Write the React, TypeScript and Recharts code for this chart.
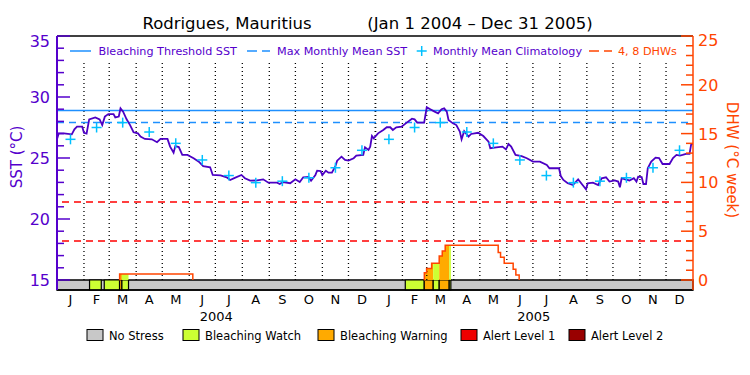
import { ComposedChart, Line, Area, Scatter, XAxis, YAxis, ReferenceLine, ReferenceArea } from 'recharts'

const FONT = '"DejaVu Sans", "Liberation Sans", sans-serif'
const PURPLE = '#5500CC'
const SST_LINE = '#4C00C4'
const BLUE = '#1E90FF'
const CYAN = '#00C0FF'
const RED = '#FF0000'
const ORANGE_RED = '#FF4500'

const ALERT_COLORS: Record<string, string> = {
  none: '#C8C8C8',
  watch: '#CCFF33',
  warning: '#FFAA00',
  alert1: '#EE0000',
  alert2: '#990000',
}

// x = days since Jan 1 2004
const monthStarts = [0, 31, 60, 91, 121, 152, 182, 213, 244, 274, 305, 335, 366, 397, 425, 456, 486, 517, 547, 578, 609, 639, 670, 700, 731]
const monthLetters = ['J', 'F', 'M', 'A', 'M', 'J', 'J', 'A', 'S', 'O', 'N', 'D']
const yearLabels = [{ day: 183, label: '2004' }, { day: 548, label: '2005' }]

const sstTicks = [15, 16, 17, 18, 19, 20, 21, 22, 23, 24, 25, 26, 27, 28, 29, 30, 31, 32, 33, 34, 35]
const dhwTicks = [0, 1, 2, 3, 4, 5, 6, 7, 8, 9, 10, 11, 12, 13, 14, 15, 16, 17, 18, 19, 20, 21, 22, 23, 24, 25]

const MMM = 27.9
const THRESHOLD = 28.9
const dhwLevels = [4, 8]

// twice-weekly SST, [day, °C]
const sstSeries: [number, number][] = [
  [0, 26.53], [2, 27.02], [8, 27.02], [17, 26.94], [20, 27.35], [23, 27.57], [29, 27.57], [31, 27.07], [34, 27.0],
  [37, 28.17], [44, 28.33], [49, 28.17], [52, 27.7], [55, 28.39], [59, 28.6], [65, 28.6], [67, 28.33], [71, 28.4],
  [73, 29.07], [76, 28.8], [80, 28.17], [84, 27.7], [88, 27.11], [93, 27.02], [96, 26.75], [101, 26.56], [109, 26.53],
  [115, 26.29], [119, 26.56], [127, 26.56], [130, 25.93], [134, 25.43], [136, 25.98], [140, 25.9], [144, 25.25],
  [150, 25.25], [157, 24.98], [163, 24.7], [168, 24.34], [176, 24.24], [179, 23.61], [188, 23.57], [195, 23.42],
  [199, 23.2], [205, 23.39], [212, 23.61], [216, 23.34], [222, 23.14], [230, 23.16], [237, 23.25], [243, 22.98],
  [253, 22.98], [256, 22.87], [260, 23.03], [268, 22.93], [274, 23.25], [279, 23.03], [283, 23.42], [289, 23.44],
  [292, 23.14], [297, 23.61], [299, 23.96], [303, 23.93], [305, 23.61], [309, 23.96], [312, 23.8], [316, 23.8],
  [320, 24.34], [322, 24.78], [327, 25.11], [331, 24.84], [335, 24.78], [341, 24.98], [344, 25.2], [352, 25.25],
  [354, 25.87], [358, 25.66], [360, 25.93], [362, 26.8], [364, 26.61], [369, 27.02], [375, 27.3], [379, 27.52],
  [383, 27.52], [386, 27.3], [390, 27.52], [396, 27.57], [402, 27.9], [408, 28.22], [411, 28.17], [414, 27.9],
  [422, 27.9], [425, 29.16], [429, 29.0], [434, 28.8], [438, 28.66], [442, 29.0], [445, 29.07], [448, 28.8],
  [450, 28.11], [455, 27.84], [459, 27.7], [463, 27.16], [465, 26.53], [468, 27.2], [473, 26.75], [476, 26.97],
  [484, 27.07], [490, 26.8], [496, 26.34], [498, 25.8], [505, 25.87], [512, 25.93], [516, 25.7], [519, 26.15],
  [522, 25.93], [527, 25.25], [534, 25.16], [540, 24.98], [547, 24.7], [555, 24.7], [563, 24.43], [566, 24.16],
  [577, 24.16], [579, 23.52], [582, 23.2], [587, 22.93], [593, 22.79], [599, 23.25], [605, 22.7], [608, 22.43],
  [610, 22.93], [616, 22.98], [622, 22.79], [626, 23.34], [631, 23.42], [635, 23.07], [641, 23.16], [645, 23.07],
  [647, 22.6], [649, 23.34], [653, 23.25], [658, 23.16], [663, 23.34], [666, 23.07], [668, 23.47], [672, 23.44],
  [674, 22.87], [677, 22.87], [679, 24.16], [683, 24.7], [688, 25.03], [692, 25.0], [696, 24.51], [704, 24.51],
  [708, 25.0], [712, 25.25], [716, 25.2], [719, 25.25], [723, 25.33], [727, 25.33], [729, 26.15], [731, 26.15],
]

// monthly mean climatology, Jan..Dec
const climMonthly = [26.53, 27.5, 27.9, 27.13, 26.2, 24.84, 23.56, 22.98, 23.1, 23.38, 24.2, 25.63]

// degree heating weeks, [day, °C-week]
const dhw2004: [number, number][] = [[71.9, 0], [72, 0.61], [156.1, 0]]
const dhw2005: [number, number][] = [
  [422.1, 0], [422.2, 0.75], [424.8, 1.19], [430.6, 1.71], [439.3, 2.46], [442.8, 2.97], [446.2, 3.55],
  [507.1, 2.83], [509.8, 2.32], [514, 1.71], [524.3, 1.09], [527.4, 0.51], [531.2, 0],
]

// bleaching alert periods
const alertSegments = [
  { start: 37.4, end: 50.9, level: 'watch' },
  { start: 54.3, end: 71.9, level: 'watch' },
  { start: 71.9, end: 74.6, level: 'warning' },
  { start: 74.6, end: 82.2, level: 'watch' },
  { start: 400.3, end: 422.1, level: 'watch' },
  { start: 422.1, end: 432.4, level: 'warning' },
  { start: 432.4, end: 439.3, level: 'watch' },
  { start: 439.3, end: 450.8, level: 'warning' },
  { start: 450.8, end: 452.7, level: 'watch' },
]

const legendItems = [
  { key: 'none', label: 'No Stress', x: 87 },
  { key: 'watch', label: 'Bleaching Watch', x: 183 },
  { key: 'warning', label: 'Bleaching Warning', x: 318 },
  { key: 'alert1', label: 'Alert Level 1', x: 461 },
  { key: 'alert2', label: 'Alert Level 2', x: 569 },
]

const SST_MIN = 14.18
const DHW_MIN = -1.025
const GRID_TOP = 33.0 // dotted month lines stop below the legend row

const monthMids = monthStarts.slice(0, -1).map((s, i) => s + (monthStarts[i + 1] - s) / 2)
const xTicks = [...monthMids, ...yearLabels.map((y) => y.day)]
const sstData = sstSeries.map(([day, v]) => ({ day, v }))
const climData = monthMids.map((day, i) => ({ day, v: climMonthly[i % 12] }))
const toRows = (pts: [number, number][]) => pts.map(([day, v]) => ({ day, v }))

function stepAt(pts: [number, number][], t: number) {
  let v = 0
  for (const [d, y] of pts) if (d <= t) v = y
  return v
}

function fillRows(a: number, b: number) {
  const pts = a < 366 ? dhw2004 : dhw2005
  const inner = pts.filter(([d]) => d > a && d < b)
  return toRows([[a, stepAt(pts, a)], ...inner, [b, stepAt(pts, b)]])
}

function SstTick(props: any) {
  const { x, y, payload } = props
  const major = payload.value % 5 === 0
  return (
    <g>
      <line x1={x} x2={x + (major ? 13 : 7)} y1={y} y2={y} stroke={PURPLE} strokeWidth={1.5} />
      {major && (
        <text x={x - 7} y={Math.max(y, 41)} dy={6} textAnchor="end" fill={PURPLE} fontSize={16} fontFamily={FONT}>
          {payload.value}
        </text>
      )}
    </g>
  )
}

function DhwTick(props: any) {
  const { x, y, payload } = props
  const major = payload.value % 5 === 0
  return (
    <g>
      <line x1={x} x2={x - (major ? 12 : 7)} y1={y} y2={y} stroke={ORANGE_RED} strokeWidth={1.5} />
      {major && (
        <text x={x + 5} y={Math.max(y, 40)} dy={6} textAnchor="start" fill={ORANGE_RED} fontSize={16} fontFamily={FONT}>
          {payload.value}
        </text>
      )}
    </g>
  )
}

function MonthTick(props: any) {
  const { x, y, payload } = props
  const yr = yearLabels.find((t) => t.day === payload.value)
  if (yr) {
    return (
      <text x={x} y={y + 31} textAnchor="middle" fill="#000" fontSize={13} fontFamily={FONT}>
        {yr.label}
      </text>
    )
  }
  const i = monthMids.indexOf(payload.value)
  return (
    <text x={x} y={y + 14} textAnchor="middle" fill="#000" fontSize={13} fontFamily={FONT}>
      {monthLetters[i % 12]}
    </text>
  )
}

function Cross(props: any) {
  const { cx, cy } = props
  return (
    <g>
      <line x1={cx - 5} x2={cx + 5} y1={cy} y2={cy} stroke={CYAN} strokeWidth={1.5} />
      <line x1={cx} x2={cx} y1={cy - 5} y2={cy + 5} stroke={CYAN} strokeWidth={1.5} />
    </g>
  )
}

function Overlay() {
  return (
    <svg width={750} height={375} style={{ position: 'absolute', left: 0, top: 0, pointerEvents: 'none' }} fontFamily={FONT}>
      <text x={227} y={29} textAnchor="middle" fontSize={16.5} fill="#000">Rodrigues, Mauritius</text>
      <text x={480} y={29} textAnchor="middle" fontSize={16.5} fill="#000">(Jan 1 2004 – Dec 31 2005)</text>

      <line x1={70} x2={91} y1={51} y2={51} stroke={BLUE} strokeWidth={1.5} />
      <text x={98.5} y={55} fontSize={11.2} fill={PURPLE}>Bleaching Threshold SST</text>
      <line x1={247} x2={270} y1={51} y2={51} stroke={BLUE} strokeWidth={1.5} strokeDasharray="10 5" />
      <text x={277} y={55} fontSize={11.2} fill={PURPLE}>Max Monthly Mean SST</text>
      <Cross cx={421.7} cy={51} />
      <text x={433} y={55} fontSize={11.2} fill={PURPLE}>Monthly Mean Climatology</text>
      <line x1={589} x2={612} y1={51} y2={51} stroke={ORANGE_RED} strokeWidth={1.5} strokeDasharray="10 5" />
      <text x={618} y={55} fontSize={11.2} fill={ORANGE_RED}>4, 8 DHWs</text>

      <text transform="translate(17,157) rotate(-90)" textAnchor="middle" dy="0.35em" fontSize={15} fill={PURPLE}>
        SST (°C)
      </text>
      <text transform="translate(732,160) rotate(90)" textAnchor="middle" dy="0.35em" fontSize={15} fill={ORANGE_RED}>
        DHW (°C week)
      </text>

      {legendItems.map((it) => (
        <g key={it.key}>
          <rect x={it.x} y={329.5} width={16} height={11} fill={ALERT_COLORS[it.key]} stroke="#000" strokeWidth={1} />
          <text x={it.x + 22} y={339.5} fontSize={11.5} fill="#000">{it.label}</text>
        </g>
      ))}
    </svg>
  )
}

export default function App() {
  return (
    <div style={{ position: 'absolute', left: 0, top: 0, width: 750, height: 375, background: '#fff', fontFamily: FONT }}>
      <ComposedChart width={750} height={375} margin={{ top: 36, right: 0, bottom: 0, left: 0 }}>
        <XAxis
          dataKey="day"
          type="number"
          domain={[0, 731]}
          ticks={xTicks}
          interval={0}
          allowDataOverflow
          height={85}
          tickLine={false}
          tickSize={0}
          tickMargin={0}
          axisLine={{ stroke: '#000', strokeWidth: 1.5 }}
          tick={<MonthTick />}
        />
        <YAxis
          yAxisId="sst"
          orientation="left"
          width={57}
          type="number"
          domain={[SST_MIN, 35]}
          ticks={sstTicks}
          interval={0}
          allowDataOverflow
          tickLine={false}
          tickSize={0}
          tickMargin={0}
          axisLine={{ stroke: PURPLE, strokeWidth: 2 }}
          tick={<SstTick />}
        />
        <YAxis
          yAxisId="dhw"
          orientation="right"
          width={57}
          type="number"
          domain={[DHW_MIN, 25]}
          ticks={dhwTicks}
          interval={0}
          allowDataOverflow
          tickLine={false}
          tickSize={0}
          tickMargin={0}
          axisLine={{ stroke: ORANGE_RED, strokeWidth: 1.5 }}
          tick={<DhwTick />}
        />

        {monthStarts.slice(1, -1).map((d) => (
          <ReferenceLine
            key={`m-${d}`}
            yAxisId="sst"
            segment={[{ x: d, y: 15 }, { x: d, y: GRID_TOP }]}
            stroke="#000"
            strokeWidth={d === 366 ? 1.8 : 1.3}
            strokeDasharray="1 3"
          />
        ))}

        <ReferenceLine yAxisId="sst" y={35} stroke="#000" strokeWidth={1.5} />
        <ReferenceLine yAxisId="sst" y={THRESHOLD} stroke={BLUE} strokeWidth={1.5} />
        <ReferenceLine yAxisId="sst" y={MMM} stroke={BLUE} strokeWidth={1.5} strokeDasharray="7 5" />
        {dhwLevels.map((l) => (
          <ReferenceLine key={`dhw-${l}`} yAxisId="dhw" y={l} stroke={RED} strokeWidth={1.5} strokeDasharray="7 5" />
        ))}

        <ReferenceArea yAxisId="sst" x1={0} x2={731} y1={SST_MIN} y2={15} fill={ALERT_COLORS.none} fillOpacity={1} stroke="#000" strokeWidth={1.5} />
        {alertSegments.map((s, i) => (
          <ReferenceArea
            key={`a-${i}`}
            yAxisId="sst"
            x1={s.start}
            x2={s.end}
            y1={SST_MIN}
            y2={15}
            fill={ALERT_COLORS[s.level]}
            fillOpacity={1}
            stroke="#000"
            strokeWidth={1.2}
          />
        ))}

        {alertSegments.map((s, i) => (
          <Area
            key={`f-${i}`}
            data={fillRows(s.start, s.end)}
            dataKey="v"
            yAxisId="dhw"
            type="stepAfter"
            baseValue={0}
            fill={ALERT_COLORS[s.level]}
            fillOpacity={1}
            stroke="none"
            isAnimationActive={false}
          />
        ))}

        <Line data={toRows(dhw2004)} dataKey="v" yAxisId="dhw" type="stepAfter" stroke={ORANGE_RED} strokeWidth={1.5} dot={false} isAnimationActive={false} />
        <Line data={toRows(dhw2005)} dataKey="v" yAxisId="dhw" type="stepAfter" stroke={ORANGE_RED} strokeWidth={1.5} dot={false} isAnimationActive={false} />

        <Line data={sstData} dataKey="v" yAxisId="sst" type="linear" stroke={SST_LINE} strokeWidth={1.8} dot={false} isAnimationActive={false} />
        <Scatter data={climData} dataKey="v" yAxisId="sst" shape={<Cross />} isAnimationActive={false} />
      </ComposedChart>
      <Overlay />
    </div>
  )
}
